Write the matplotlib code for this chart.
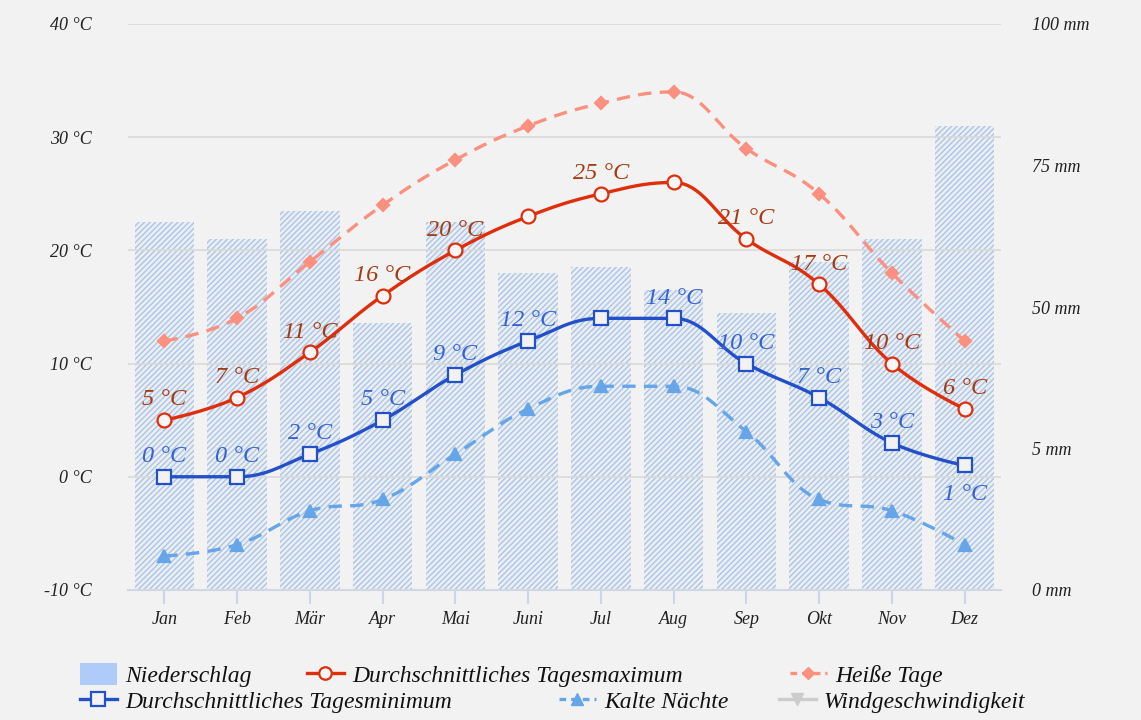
import numpy as np
import matplotlib.pyplot as plt
from matplotlib.patches import Patch
from matplotlib.lines import Line2D

# --- Daten ---
months = ['Jan', 'Feb', 'Mär', 'Apr', 'Mai', 'Juni', 'Jul', 'Aug', 'Sep', 'Okt', 'Nov', 'Dez']
niederschlag = [65, 62, 67, 45, 65, 56, 57, 53, 48, 58, 62, 82]     # mm
tmax = [5, 7, 11, 16, 20, 23, 25, 26, 21, 17, 10, 6]                 # °C
tmin = [0, 0, 2, 5, 9, 12, 14, 14, 10, 7, 3, 1]                      # °C
heisse_tage = [12, 14, 19, 24, 28, 31, 33, 34, 29, 25, 18, 12]
kalte_naechte = [-7, -6, -3, -2, 2, 6, 8, 8, 4, -2, -3, -6]
# welche Datenbeschriftungen sichtbar sind (überlappende werden ausgeblendet)
tmax_shown = [1, 1, 1, 1, 1, 0, 1, 0, 1, 1, 1, 1]
tmin_shown = [1, 1, 1, 1, 1, 1, 0, 1, 1, 1, 1, 1]
temp_ticks = [-10, 0, 10, 20, 30, 40]
mm_ticks = [0, 5, 50, 75, 100]

plt.rcParams['font.family'] = ['Liberation Serif', 'DejaVu Serif']
plt.rcParams['font.style'] = 'italic'
plt.rcParams['hatch.linewidth'] = 1.0

BG = '#f2f2f2'
C_MAX, C_MAX_TXT = '#de2e0c', '#a53b12'
C_MIN, C_MIN_TXT = '#2350c8', '#3562d0'
C_HOT = '#fb9080'
C_COLD = '#66a5e8'


def spline_xy(xs, ys, smoothing=1.5, steps=40):
    """Glatte Kurve durch die Punkte (Bezier-Kontrollpunkte wie bei Highcharts)."""
    denom = smoothing + 1
    n = len(xs)
    ctrl = []
    for i in range(n):
        x, y = xs[i], ys[i]
        if 0 < i < n - 1:
            lx, ly = xs[i - 1], ys[i - 1]
            nx, ny = xs[i + 1], ys[i + 1]
            lcx, lcy = (smoothing * x + lx) / denom, (smoothing * y + ly) / denom
            rcx, rcy = (smoothing * x + nx) / denom, (smoothing * y + ny) / denom
            corr = (rcy - lcy) * (rcx - x) / (rcx - lcx) + y - rcy
            lcy += corr
            rcy += corr
            if lcy > ly and lcy > y:
                lcy = max(ly, y); rcy = 2 * y - lcy
            elif lcy < ly and lcy < y:
                lcy = min(ly, y); rcy = 2 * y - lcy
            if rcy > ny and rcy > y:
                rcy = max(ny, y); lcy = 2 * y - rcy
            elif rcy < ny and rcy < y:
                rcy = min(ny, y); lcy = 2 * y - rcy
            ctrl.append(((lcx, lcy), (rcx, rcy)))
        else:
            ctrl.append(((x, y), (x, y)))
    t = np.linspace(0, 1, steps)[:, None]
    out = [np.array([[xs[0], ys[0]]], dtype=float)]
    for i in range(1, n):
        p0 = np.array([xs[i - 1], ys[i - 1]], dtype=float)
        p1 = np.array(ctrl[i - 1][1])
        p2 = np.array(ctrl[i][0])
        p3 = np.array([xs[i], ys[i]], dtype=float)
        seg = ((1 - t) ** 3) * p0 + 3 * ((1 - t) ** 2) * t * p1 \
            + 3 * (1 - t) * t ** 2 * p2 + t ** 3 * p3
        out.append(seg[1:])
    pts = np.vstack(out)
    return pts[:, 0], pts[:, 1]


fig = plt.figure(figsize=(11.41, 7.2), dpi=100, facecolor=BG)
ax2 = fig.add_axes([128 / 1141, 1 - 590 / 720, 873 / 1141, 566 / 720])
ax = ax2.twinx()
ax.yaxis.tick_left()
ax2.yaxis.tick_right()
ax.set_zorder(ax2.get_zorder() + 1)
ax.patch.set_visible(False)
ax2.set_facecolor(BG)

x = np.arange(len(months))

# Niederschlag (rechte Achse, stückweise lineare Skala)
mm_pos = np.linspace(0, 1, len(mm_ticks))
ax2.set_yscale('function', functions=(lambda v: np.interp(v, mm_ticks, mm_pos),
                                      lambda p: np.interp(p, mm_pos, mm_ticks)))
ax2.bar(x, niederschlag, width=0.82, facecolor='#eaeef5', edgecolor='#aec4e2',
        hatch='//////', linewidth=0)
ax2.set_ylim(0, 100)
ax2.set_yticks(mm_ticks, labels=[f'{v} mm' for v in mm_ticks])
ax2.yaxis.set_minor_locator(plt.NullLocator())
ax2.tick_params(axis='y', length=0, pad=22, labelsize=13, labelcolor='#222222')

# Temperaturen (linke Achse)
series = [
    (heisse_tage, C_HOT, (0, (4, 2.5)), 'D', 6.5, C_HOT, C_HOT),
    (kalte_naechte, C_COLD, (0, (4, 2.5)), '^', 9, C_COLD, C_COLD),
    (tmax, C_MAX, '-', 'o', 10, '#f7f7f7', C_MAX),
    (tmin, C_MIN, '-', 's', 10.5, '#f2f2f2', C_MIN),
]
for vals, col, ls, mk, ms, mfc, mec in series:
    sx, sy = spline_xy(x, vals)
    ax.plot(sx, sy, color=col, linewidth=2.4, linestyle=ls, dash_capstyle='butt')
    ax.plot(x, vals, linestyle='none', marker=mk, markersize=ms,
            markerfacecolor=mfc, markeredgecolor=mec, markeredgewidth=1.6)

for i, (v, s) in enumerate(zip(tmax, tmax_shown)):
    if s:
        ax.annotate(f'{v} °C', (x[i], v), xytext=(0, 7), textcoords='offset points',
                    ha='center', va='bottom', fontsize=17.5, color=C_MAX_TXT)
for i, (v, s) in enumerate(zip(tmin, tmin_shown)):
    if s:
        below = i == len(tmin) - 1
        ax.annotate(f'{v} °C', (x[i], v), xytext=(0, -13 if below else 7),
                    textcoords='offset points', ha='center',
                    va='top' if below else 'bottom', fontsize=17.5, color=C_MIN_TXT)

ax.set_ylim(-10, 40)
ax.set_xlim(-0.5, 11.5)
ax.set_yticks(temp_ticks, labels=[f'{v} °C' for v in temp_ticks])
ax.tick_params(axis='y', length=0, pad=26, labelsize=13, labelcolor='#222222')
ax.grid(axis='y', color='#d9d9d9', linewidth=1.2)
ax2.set_xticks(x, labels=months)
ax2.tick_params(axis='x', length=10, width=1.5, color='#ccd6eb', pad=5,
                labelsize=13, labelcolor='#222222')
for a in (ax, ax2):
    for side in ('top', 'left', 'right', 'bottom'):
        a.spines[side].set_visible(False)
ax2.spines['bottom'].set_visible(True)
ax2.spines['bottom'].set_color('#ccd6eb')
ax2.spines['bottom'].set_linewidth(1.5)

# Legende, Einträge einzeln gesetzt
entries = [
    (Patch(facecolor='#aecbfa', edgecolor='none'), 'Niederschlag', 80, 675),
    (Line2D([], [], color=C_MAX, lw=2.4, marker='o', ms=9, mfc='#f7f7f7', mec=C_MAX, mew=1.6),
     'Durchschnittliches Tagesmaximum', 307, 675),
    (Line2D([], [], color=C_HOT, lw=2.4, ls=(0, (2, 1.5)), marker='D', ms=6, mfc=C_HOT, mec=C_HOT),
     'Heiße Tage', 790, 675),
    (Line2D([], [], color=C_MIN, lw=2.4, marker='s', ms=9.5, mfc='#f2f2f2', mec=C_MIN, mew=1.6),
     'Durchschnittliches Tagesminimum', 80, 701),
    (Line2D([], [], color=C_COLD, lw=2.4, ls=(0, (2, 1.5)), marker='^', ms=9, mfc=C_COLD, mec=C_COLD),
     'Kalte Nächte', 559, 701),
    (Line2D([], [], color='#cccccc', lw=2.4, marker='v', ms=9, mfc='#cccccc', mec='#cccccc'),
     'Windgeschwindigkeit', 779, 701),
]
for h, lab, px, py in entries:
    fig.legend([h], [lab], loc='center left', bbox_to_anchor=(px / 1141, 1 - py / 720),
               frameon=False, fontsize=17, handlelength=1.55, handleheight=1.1,
               handletextpad=0.35, borderpad=0, borderaxespad=0, labelcolor='#111111')

fig.savefig('out.png', dpi=100, facecolor=BG)
